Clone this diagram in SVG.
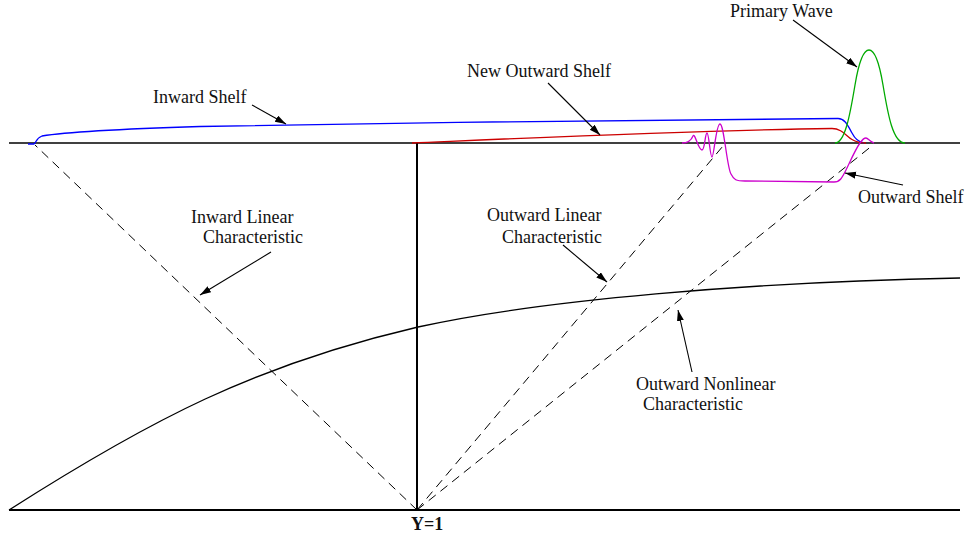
<svg xmlns="http://www.w3.org/2000/svg" width="967" height="535" viewBox="0 0 967 535">
<style>
text{font-family:"Liberation Serif","Times New Roman",serif;font-size:18px;fill:#111}
.ax{stroke:#000;fill:none}
.dash{stroke:#000;stroke-width:1;stroke-dasharray:9 6;fill:none}
.ptr{stroke:#000;stroke-width:1.1;fill:none;marker-end:url(#ah)}
.c{fill:none;stroke-width:1.3}
</style>
<defs>
<marker id="ah" markerUnits="userSpaceOnUse" markerWidth="12" markerHeight="8" refX="11" refY="3.5" orient="auto">
<path d="M0,0 L11,3.5 L0,7 z" fill="#000"/>
</marker>
</defs>
<g id="axes">
<line class="ax" x1="9" y1="143" x2="960" y2="143" stroke-width="1.3"/>
<line class="ax" x1="9" y1="510" x2="960" y2="510" stroke-width="2"/>
<line class="ax" x1="417" y1="143" x2="417" y2="510" stroke-width="2"/>
</g>
<g id="characteristics">
<line class="dash" x1="417" y1="510" x2="35" y2="145"/>
<line class="dash" x1="417" y1="510" x2="723" y2="146"/>
<line class="dash" x1="417" y1="510" x2="873" y2="145"/>
<path class="c" stroke="#000" d="M9,510 C150,420 255,365 418,327 C540,300 750,282 960,278"/>
</g>
<g id="inward-shelf">
<path class="c" stroke="#0000ff" d="M28,144 L34,144 C36,143 36,138 42,136 C60,133 120,129 200,126.5 C400,122.5 700,119 838,118.5 C845,118.5 848,126 852,133 C855,139 858,142 864,143"/>
</g>
<g id="new-outward-shelf">
<path class="c" stroke="#cc0000" d="M412,143 C550,137 700,130 832,128.5 C842,128.5 846,136 852,139.5 C856,142 860,143 866,143"/>
</g>
<g id="outward-shelf">
<path class="c" stroke="#cc00cc" d="M682,143 C688,143 691,141 693,136 C695,132 698,150 702,150 C705,150 705,133 707,133 C709,133 710,157 712,157 C714,157 716,124 720,124 C724,124 727,168 731,174 C734,180 736,181 745,181 L834,182 C840,182 842,178 846,170 C850,162 855,150 860,143 C862,140 864,138 866,138 C868,138 870,142 874,143"/>
</g>
<g id="primary-wave">
<path class="c" stroke="#00aa00" d="M835,143 C845,143 850,115 855,85 C860,55 865,50 869,50 C873,50 878,55 883,85 C888,115 893,143 905,143"/>
</g>
<g id="connectors">
<line class="ptr" x1="793" y1="20" x2="857" y2="67"/>
<line class="ptr" x1="548" y1="83" x2="600" y2="135"/>
<line class="ptr" x1="252" y1="105" x2="286" y2="124"/>
<line class="ptr" x1="903" y1="185" x2="845" y2="173"/>
<line class="ptr" x1="271" y1="252" x2="200" y2="295"/>
<line class="ptr" x1="563" y1="245" x2="607" y2="282"/>
<line class="ptr" x1="692" y1="372" x2="678" y2="310"/>
</g>
<g id="labels">
<text x="730" y="17">Primary Wave</text>
<text x="467" y="77">New Outward Shelf</text>
<text x="153" y="103">Inward Shelf</text>
<text x="858" y="203">Outward Shelf</text>
<text x="191" y="223">Inward Linear</text>
<text x="203" y="243">Characteristic</text>
<text x="487" y="221">Outward Linear</text>
<text x="502" y="243">Characteristic</text>
<text x="636" y="390">Outward Nonlinear</text>
<text x="643" y="410">Characteristic</text>
<text x="411" y="530" font-weight="bold">Y=1</text>
</g>
</svg>
